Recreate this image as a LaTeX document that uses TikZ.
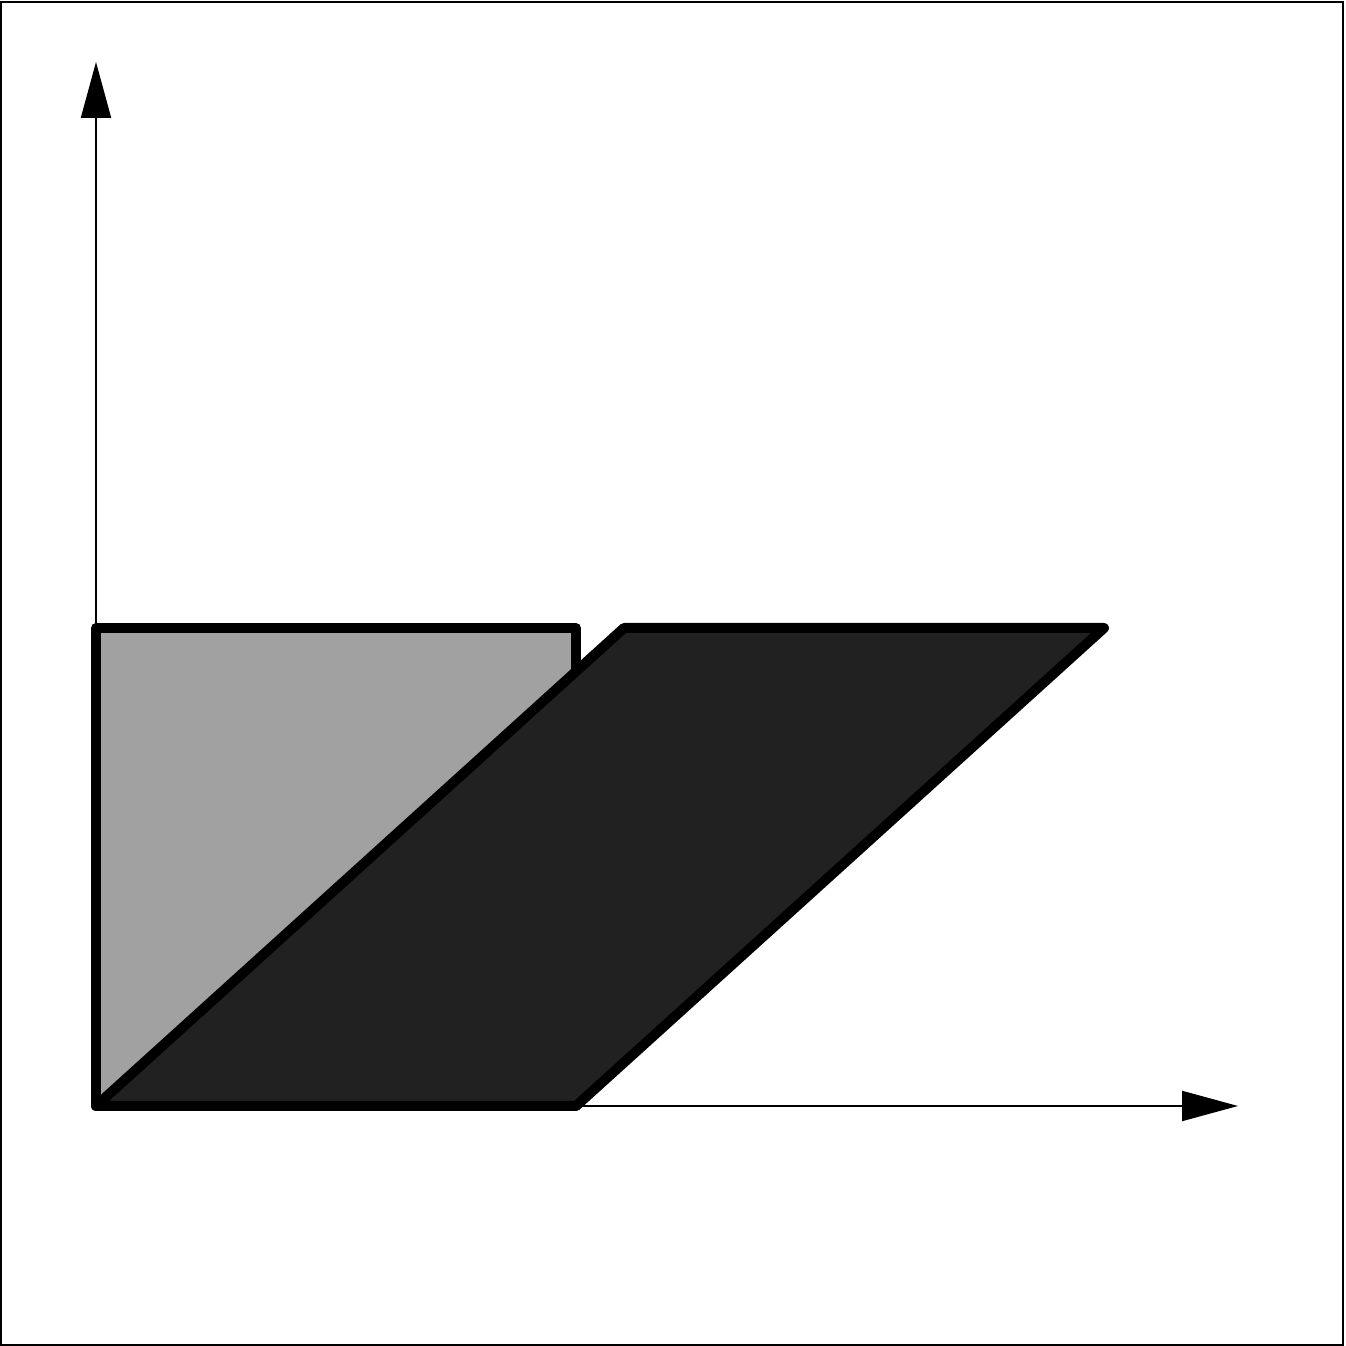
\documentclass[tikz,border=0pt]{standalone}
\usepackage{xcolor}
\usepackage{tikz}
\usetikzlibrary{arrows.meta}

\begin{document}
\begin{tikzpicture}[
        axis/.style={line width=0.02cm, -{Triangle[length=0.56cm, width=0.30cm]}},
        region/.style={line width=0.1cm, line join=round, draw=black},
        frame/.style={line width=0.02cm, draw=black}
    ]
        \useasboundingbox (0,0) rectangle (13.45,13.46);
        %--- Frame ---
        \draw[frame] (0.01,0.01) rectangle (13.43,13.44);

        %--- Axes ---
        \coordinate (o) at (0.96,2.40);
        \coordinate (xend) at (12.38,2.40);
        \coordinate (yend) at (0.96,12.84);
        \draw[axis] (o) -- (xend);
        \draw[axis] (o) -- (yend);

        %--- Unit square ---
        \filldraw[region, fill=black!37] (o) rectangle (5.76,7.18);

        %--- Sheared square ---
        \filldraw[region, fill=black!87] (o) -- (5.76,2.40) -- (11.04,7.18)
            -- (6.24,7.18) -- cycle;
    \end{tikzpicture}
\end{document}
